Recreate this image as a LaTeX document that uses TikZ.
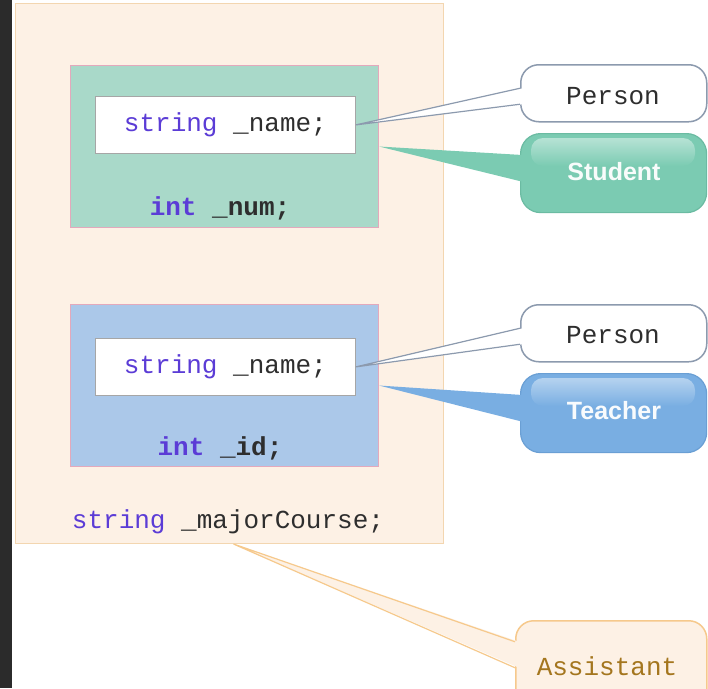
\documentclass[tikz,border=0pt]{standalone}
\usepackage{fontspec}
\setmainfont{Liberation Serif}
\setsansfont{Liberation Sans}
\setmonofont{Liberation Mono}
\usetikzlibrary{calc}
\definecolor{peach}{HTML}{FDF1E5}
\definecolor{peachline}{HTML}{F3D6B0}
\definecolor{greenbox}{HTML}{A9D9C9}
\definecolor{bluebox}{HTML}{ABC8E9}
\definecolor{pinkline}{HTML}{E3A9BC}
\definecolor{kw}{HTML}{5B3CD6}
\definecolor{codec}{HTML}{2E2E2E}
\definecolor{callgray}{HTML}{8C9AAE}
\definecolor{stud}{HTML}{7BCBB2}
\definecolor{studline}{HTML}{6BBBA2}
\definecolor{teach}{HTML}{79AEE2}
\definecolor{teachline}{HTML}{6A9FD4}
\definecolor{assist}{HTML}{A4761E}
\definecolor{assistline}{HTML}{F6C98C}
\definecolor{darkstrip}{HTML}{2B2B2B}
\newcommand{\kwd}[1]{\textcolor{kw}{#1}}
\tikzset{
  codetxt/.style={font=\ttfamily\fontsize{26}{28}\selectfont, text=codec, inner sep=0pt},
  outerbox/.style={draw=peachline, fill=peach, line width=1pt, inner sep=0pt, anchor=north west},
  classbox/.style={draw=pinkline, line width=1pt, inner sep=0pt, anchor=north west, minimum width=308pt, minimum height=162pt},
  fieldbox/.style={draw=gray!70, fill=white, line width=0.8pt, inner sep=0pt, anchor=north west, minimum width=260pt, minimum height=57pt, font=\ttfamily\fontsize{26}{28}\selectfont, text=codec},
  personcall/.style={draw=callgray, fill=white, line width=1.5pt, rounded corners=18pt, inner sep=0pt, anchor=north west, minimum width=186pt, minimum height=57pt},
  rolecall/.style={line width=1.2pt, rounded corners=20pt, inner sep=0pt, anchor=north west, minimum width=186pt, minimum height=79pt},
  roletxt/.style={font=\sffamily\bfseries\fontsize{25}{27}\selectfont, inner sep=0pt},
}
\begin{document}
\begin{tikzpicture}[x=1pt,y=-1pt]
\useasboundingbox (0,0) rectangle (708,688);
\clip (0,0) rectangle (708,688);
\fill[white] (0,0) rectangle (708,688);
\fill[darkstrip] (0,0) rectangle (12,688);

% outer Assistant object
\node[outerbox, minimum width=428pt, minimum height=540pt] (outer) at (15,3) {};

% Student part
\node[classbox, fill=greenbox] (sbox) at (70,65) {};
\node[fieldbox] (sname) at (95,96) {\kwd{string} \_name;};
\node[codetxt, font=\ttfamily\bfseries\fontsize{26}{28}\selectfont] (snum) at (220,208) {\kwd{int} \_num;};

% Teacher part
\node[classbox, fill=bluebox] (tbox) at (70,304) {};
\node[fieldbox] (tname) at (95,338) {\kwd{string} \_name;};
\node[codetxt, font=\ttfamily\bfseries\fontsize{26}{28}\selectfont] (tid) at (220,448) {\kwd{int} \_id;};

% own field
\node[codetxt] (major) at (228,522) {\kwd{string} \_majorCourse;};

% callouts
\node[personcall] (p1) at (520,64) {};
\node[codetxt] (p1t) at (613,96) {Person};
\node[rolecall, draw=studline, fill=stud] (s1) at (520,133) {};
\shade[top color=white!45!stud, bottom color=stud, rounded corners=12pt] (531,138) rectangle (695,166);
\node[roletxt, text=white!95!stud] (s1t) at (614,172) {Student};

\node[personcall] (p2) at (520,304) {};
\node[codetxt] (p2t) at (613,335) {Person};
\node[rolecall, draw=teachline, fill=teach] (t1) at (520,373) {};
\shade[top color=white!45!teach, bottom color=teach, rounded corners=12pt] (531,378) rectangle (695,406);
\node[roletxt, text=white!95!teach] (t1t) at (614,411) {Teacher};

\node[draw=assistline, fill=peach, line width=1.5pt, rounded corners=18pt, inner sep=0pt, anchor=north west, minimum width=191pt, minimum height=100pt] (a1) at (515,620) {};
\node[codetxt, text=assist] (a1t) at (607,666) {Assistant};

% pointers: Person (name field)
\fill[white] (sname.east) -- ($(p1.west)+(3,-5)$) -- ($(p1.west)+(3,11)$) -- cycle;
\draw[callgray, line width=1.2pt] ($(p1.west)+(0,-5)$) -- (sname.east) -- ($(p1.west)+(0,11)$);
\fill[white] (tname.east) -- ($(p2.west)+(3,-5)$) -- ($(p2.west)+(3,11)$) -- cycle;
\draw[callgray, line width=1.2pt] ($(p2.west)+(0,-5)$) -- (tname.east) -- ($(p2.west)+(0,11)$);

% pointers: Student / Teacher parts
\fill[stud] (sbox.east) -- ($(s1.west)+(4,-18)$) -- ($(s1.west)+(4,9)$) -- cycle;
\fill[teach] (tbox.east) -- ($(t1.west)+(4,-18)$) -- ($(t1.west)+(4,9)$) -- cycle;

% pointer: Assistant
\coordinate (atip) at ($(outer.south)+(4,0)$);
\fill[peach] (atip) -- ($(a1.west)+(4,-29)$) -- ($(a1.west)+(4,-3)$) -- cycle;
\draw[assistline, line width=1.2pt] ($(a1.west)+(0,-29)$) -- (atip) -- ($(a1.west)+(0,-3)$);
\end{tikzpicture}
\end{document}
